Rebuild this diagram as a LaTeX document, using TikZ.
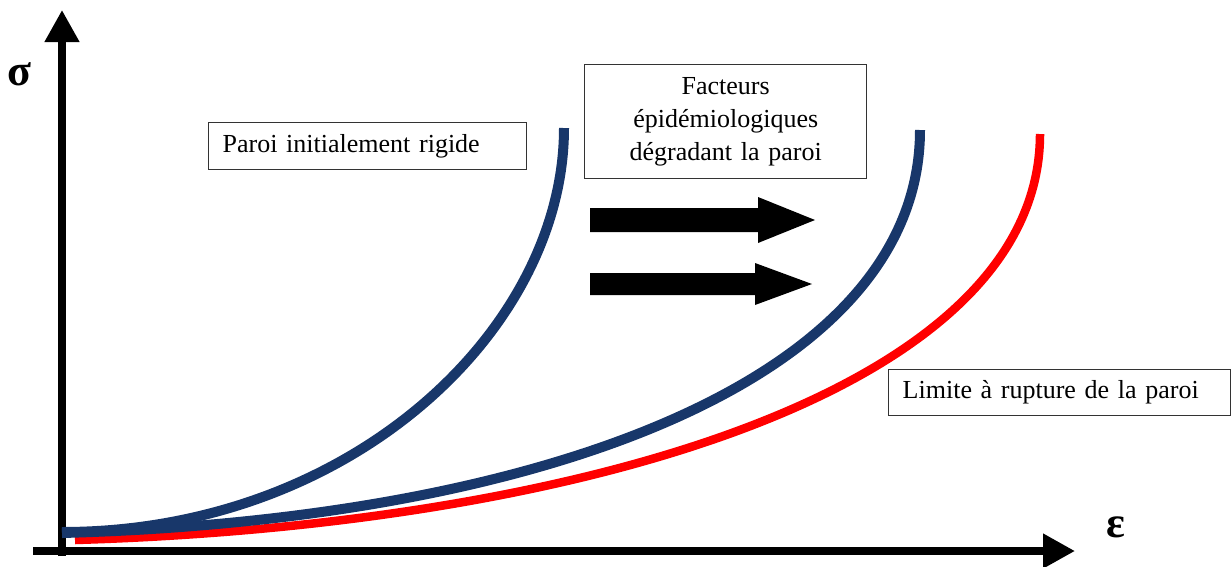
\documentclass[tikz,border=0pt]{standalone}
\usepackage{fontspec}
\setmainfont{Liberation Serif}
\usepackage{tikz}
\usetikzlibrary{arrows.meta}
\definecolor{navy}{HTML}{18376A}
\definecolor{rupt}{HTML}{FF0000}
\definecolor{ink}{HTML}{000000}
\tikzset{
  axis/.style={ink,line width=7.5pt,-{Triangle[width=33pt,length=32pt]}},
  curve/.style={line width=10pt},
  labelbox/.style={draw=black!80,line width=1.4pt,fill=white,inner xsep=14pt,inner ysep=0pt}
}

\begin{document}
\begin{tikzpicture}[x=1pt,y=-1pt,font=\fontsize{26}{33}\selectfont]
  \useasboundingbox (0,0) rectangle (1231,566);
  % axes
  \coordinate (ybot) at (62,556);
  \coordinate (ytop) at (62,10);
  \coordinate (xleft) at (33,551);
  \coordinate (xright) at (1075,551);
  \draw[axis] (ybot) -- (ytop);
  \draw[axis] (xleft) -- (xright);
  \node[font=\fontsize{44}{44}\selectfont\bfseries] (sigma) at (19,74) {σ};
  \node[font=\fontsize{44}{44}\selectfont\bfseries] (eps) at (1116,527) {ε};
  % curves
  \draw[curve,rupt,line width=8.5pt] (75,540) .. controls (580,525) and (1040,390) .. (1040,134);
  \draw[curve,navy] (62,533) .. controls (540,520) and (920,380) .. (920,130);
  \draw[curve,navy] (62,532) .. controls (350,532) and (564,330) .. (564,128);
  % block arrows: {mid y}/{shaft}/{head}/{shift}
  \foreach \y/\s/\h/\d in {220/12/23/0,284/11/21/-3}{
    \fill[ink] (590,\y-\s) -- (758+\d,\y-\s) -- (758+\d,\y-\h) -- (815+\d,\y)
      -- (758+\d,\y+\h) -- (758+\d,\y+\s) -- (590,\y+\s) -- cycle;
  }
  % labels
  \node[labelbox,anchor=north west,text width=290pt,align=left,minimum height=47pt]
      (rigide) at (208,122) {Paroi initialement rigide};
  \node[labelbox,anchor=north west,text width=254pt,align=center,minimum height=114pt]
      (facteurs) at (584,64) {Facteurs\\épidémiologiques\\dégradant la paroi};
  \node[labelbox,anchor=north west,text width=314pt,align=left,minimum height=46pt]
      (rupture) at (888,369) {Limite à rupture de la paroi};
\end{tikzpicture}
\end{document}
